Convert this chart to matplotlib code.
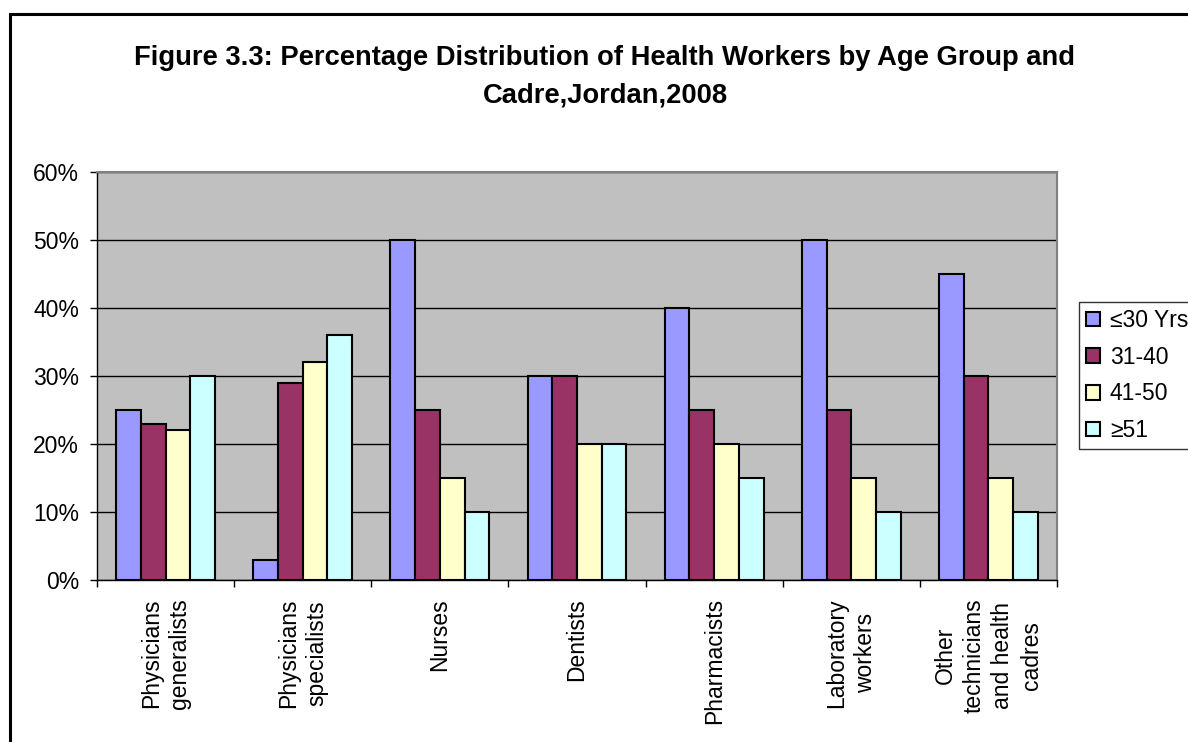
import matplotlib
matplotlib.use("Agg")
import matplotlib.pyplot as plt
import numpy as np
from matplotlib.patches import Patch, Rectangle

plt.rcParams['font.family'] = ['Liberation Sans', 'DejaVu Sans']

categories = ["Physicians\ngeneralists", "Physicians\nspecialists", "Nurses", "Dentists",
              "Pharmacists", "Laboratory\nworkers", "Other\ntechnicians\nand health\ncadres"]
series_names = ["≤30 Yrs", "31-40", "41-50", "≥51"]
le30 = [25, 3, 50, 30, 40, 50, 45]
a31_40 = [23, 29, 25, 30, 25, 25, 30]
a41_50 = [22, 32, 15, 20, 20, 15, 15]
ge51 = [30, 36, 10, 20, 15, 10, 10]
series = [le30, a31_40, a41_50, ge51]
colors = ["#9999FF", "#993366", "#FFFFCC", "#CCFFFF"]
yticks = [0, 10, 20, 30, 40, 50, 60]
ytick_labels = ["0%", "10%", "20%", "30%", "40%", "50%", "60%"]

W, H = 1188, 742
fig = plt.figure(figsize=(W / 100, H / 100), dpi=100)
fig.patch.set_facecolor("white")

# outer frame
fig.patches.append(Rectangle((10 / W, -0.1), 1.2, 1 - 14 / H + 0.1, transform=fig.transFigure,
                             fill=False, edgecolor="black", linewidth=2.2))

ax = fig.add_axes([97 / W, 1 - 580 / H, (1057 - 97) / W, (580 - 172) / H])
ax.set_facecolor("#C0C0C0")

n = len(categories)
x = np.arange(n)
bw = 0.18
for i, (vals, col, name) in enumerate(zip(series, colors, series_names)):
    ax.bar(x + (i - 1.5) * bw, vals, width=bw, color=col, edgecolor="black",
           linewidth=1.5, label=name, zorder=3)

ax.set_xlim(-0.5, n - 0.5)
ax.set_ylim(0, 60)
ax.set_yticks(yticks)
ax.set_yticklabels(ytick_labels, fontsize=16.5)
ax.yaxis.grid(True, color="black", linewidth=1, zorder=1)
ax.set_axisbelow(True)

ax.set_xticks(x)
ax.set_xticklabels(categories, rotation=90, fontsize=16.5, va="top", ha="center",
                   multialignment="center", linespacing=1.3)
ax.set_xticks(np.arange(-0.5, n, 1), minor=True)
ax.tick_params(axis="x", which="major", length=0, pad=13)
ax.tick_params(axis="x", which="minor", length=5, width=1, color="black", direction="out")
ax.tick_params(axis="y", length=5, width=1, color="black", direction="out", pad=8)

for s in ["top", "right"]:
    ax.spines[s].set_color("#808080")
    ax.spines[s].set_linewidth(1.5)
for s in ["left", "bottom"]:
    ax.spines[s].set_color("black")
    ax.spines[s].set_linewidth(1)

fig.text(605 / W, 1 - 77 / H,
         "Figure 3.3: Percentage Distribution of Health Workers by Age Group and\nCadre,Jordan,2008",
         ha="center", va="center", fontsize=19.7, fontweight="bold", linespacing=1.58)

handles = [Patch(facecolor=c, edgecolor="black", linewidth=1.5) for c in colors]
leg = fig.legend(handles, series_names, loc="upper left",
                 bbox_to_anchor=(1079 / W, 1 - 302 / H), bbox_transform=fig.transFigure,
                 borderaxespad=0, fontsize=16.5, frameon=True, fancybox=False,
                 handlelength=0.6, handleheight=0.6, handletextpad=0.45,
                 labelspacing=0.6, borderpad=0.3)
leg.get_frame().set_edgecolor("black")
leg.get_frame().set_linewidth(1)

fig.savefig("out.png", dpi=100)
